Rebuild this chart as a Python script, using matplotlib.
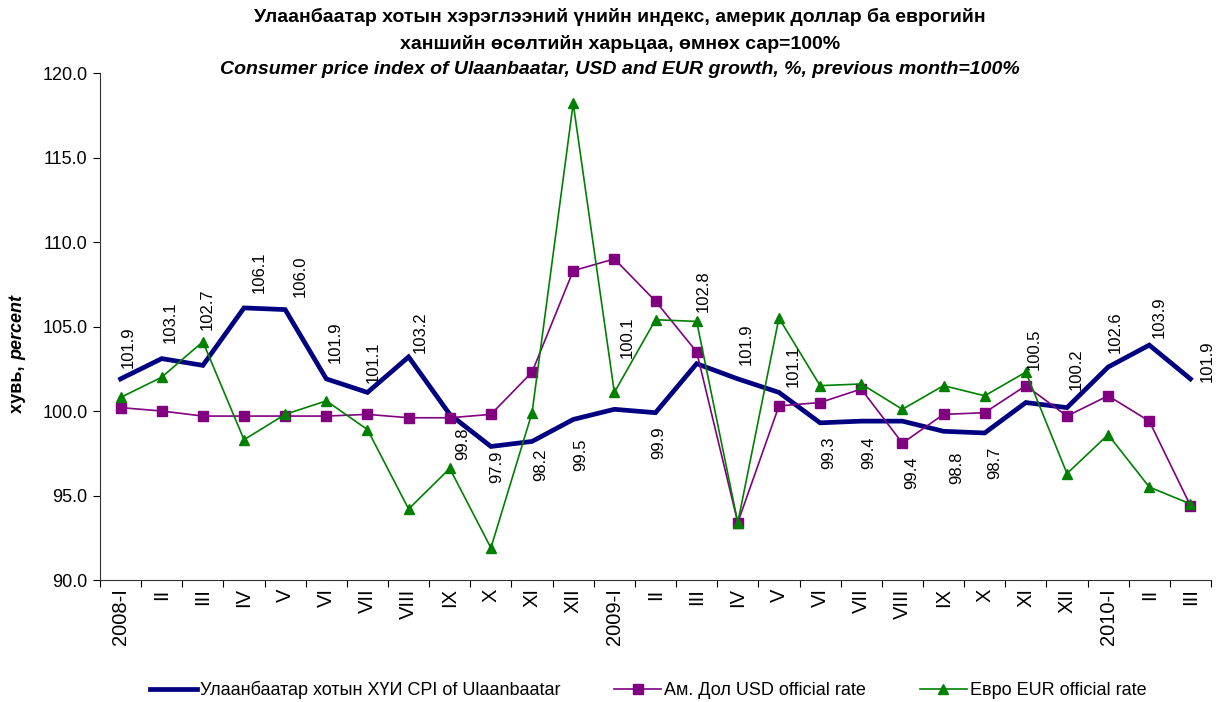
import numpy as np
import matplotlib
matplotlib.use("Agg")
import matplotlib.pyplot as plt
from matplotlib.lines import Line2D

# Data
months = ["2008-I", "II", "III", "IV", "V", "VI", "VII", "VIII", "IX", "X", "XI", "XII",
          "2009-I", "II", "III", "IV", "V", "VI", "VII", "VIII", "IX", "X", "XI", "XII",
          "2010-I", "II", "III"]
cpi = [101.9, 103.1, 102.7, 106.1, 106.0, 101.9, 101.1, 103.2, 99.8, 97.9, 98.2, 99.5,
       100.1, 99.9, 102.8, 101.9, 101.1, 99.3, 99.4, 99.4, 98.8, 98.7, 100.5, 100.2,
       102.6, 103.9, 101.9]
usd = [100.2, 100.0, 99.7, 99.7, 99.7, 99.7, 99.8, 99.6, 99.6, 99.8, 102.3, 108.3,
       109.0, 106.5, 103.5, 93.4, 100.3, 100.5, 101.3, 98.1, 99.8, 99.9, 101.5, 99.7,
       100.9, 99.4, 94.4]
eur = [100.8, 102.0, 104.1, 98.3, 99.8, 100.6, 98.9, 94.2, 96.6, 91.9, 99.9, 118.2,
       101.1, 105.4, 105.3, 93.4, 105.5, 101.5, 101.6, 100.1, 101.5, 100.9, 102.3, 96.3,
       98.6, 95.5, 94.5]

# label placement in pixels (dx, dy, anchor), hand placed like in the original
label_pos = [(8, 11, 'bottom'), (9, 16, 'bottom'), (4, 35, 'bottom'), (15, 15, 'bottom'),
             (15, 13, 'bottom'), (9, 16, 'bottom'), (6, 9, 'bottom'), (12, 4, 'bottom'),
             (13, -13, 'top'), (6, -4, 'top'), (9, -7, 'top'), (8, -19, 'top'),
             (13, 51, 'bottom'), (3, -14, 'top'), (7, 52, 'bottom'), (8, 14, 'bottom'),
             (14, 5, 'bottom'), (9, -14, 'top'), (8, -15, 'top'), (9, -35, 'top'),
             (13, -20, 'top'), (10, -14, 'top'), (8, 33, 'bottom'), (9, 18, 'bottom'),
             (7, 14, 'bottom'), (10, 7, 'bottom'), (17, -3, 'bottom')]

title_mn = "Улаанбаатар хотын хэрэглээний үнийн индекс, америк доллар ба еврогийн\nханшийн өсөлтийн харьцаа, өмнөх сар=100%"
title_en = "Consumer price index of Ulaanbaatar, USD and EUR growth, %, previous month=100%"
legend_labels = ["Улаанбаатар хотын ХҮИ CPI of Ulaanbaatar",
                 "Ам. Дол USD official rate",
                 "Евро EUR official rate"]

plt.rcParams['font.family'] = ['Liberation Sans', 'DejaVu Sans']

W, H = 1218, 702
fig = plt.figure(figsize=(W / 100, H / 100), dpi=100)
ax = fig.add_axes([100 / W, 1 - 580 / H, 1111 / W, 507 / H])

x = np.arange(len(months)) + 0.5
ax.plot(x, cpi, color='#000080', lw=3.4, solid_joinstyle='miter', zorder=3)
ax.plot(x, usd, color='#800080', lw=1.2, marker='s', ms=7, zorder=4)
ax.plot(x, eur, color='#008000', lw=1.2, marker='^', ms=7.5, zorder=5)

for xi, v, (dx, dy, anchor) in zip(x, cpi, label_pos):
    ax.annotate(f"{v:.1f}", (xi, v), xytext=(dx, dy), textcoords='offset pixels',
                rotation=90, ha='center', va=anchor, fontsize=12, zorder=6)

ax.set_xlim(0, len(months))
ax.set_ylim(90, 120)
ax.set_yticks(np.arange(90, 120.1, 5))
ax.set_yticklabels([f"{t:.1f}" for t in np.arange(90, 120.1, 5)], fontsize=13)
ax.set_xticks(np.arange(len(months) + 1))
ax.set_xticklabels([])
ax.set_xticks(x, minor=True)
ax.set_xticklabels(months, minor=True, rotation=90, fontsize=14.5, va='top')
ax.tick_params(axis='x', which='minor', length=0, pad=6)
ax.tick_params(axis='x', which='major', length=5, direction='out')
ax.tick_params(axis='y', length=5, direction='out', pad=4)
for s in ['top', 'right']:
    ax.spines[s].set_visible(False)
for s in ['left', 'bottom']:
    ax.spines[s].set_color('#333333')

fig.text(620 / W, 1 - 30.5 / H, title_mn, ha='center', va='center', fontsize=14,
         fontweight='bold', linespacing=1.6)
fig.text(620 / W, 1 - 70 / H, title_en, ha='center', va='center', fontsize=14,
         fontweight='bold', style='italic')

# y label: "хувь," bold + "percent" bold italic, reading upward
t1 = fig.text(18 / W, 1 - 413 / H, "хувь, ", rotation=90, ha='center', va='bottom',
              fontsize=13, fontweight='bold')
fig.canvas.draw()
bb = t1.get_window_extent()
fig.text(18 / W, bb.y1 / H, "percent", rotation=90, ha='center', va='bottom',
         fontsize=13, fontweight='bold', style='italic')

handles = [Line2D([], [], color='#000080', lw=3.4),
           Line2D([], [], color='#800080', lw=1.2, marker='s', ms=7),
           Line2D([], [], color='#008000', lw=1.2, marker='^', ms=7.5)]
fig.legend(handles, legend_labels, loc='center', bbox_to_anchor=(648 / W, 1 - 690 / H),
           ncol=3, frameon=False, handlelength=2.6, handletextpad=0.15,
           columnspacing=3.0, prop={'size': 13})

fig.savefig("out.png", dpi=100)
